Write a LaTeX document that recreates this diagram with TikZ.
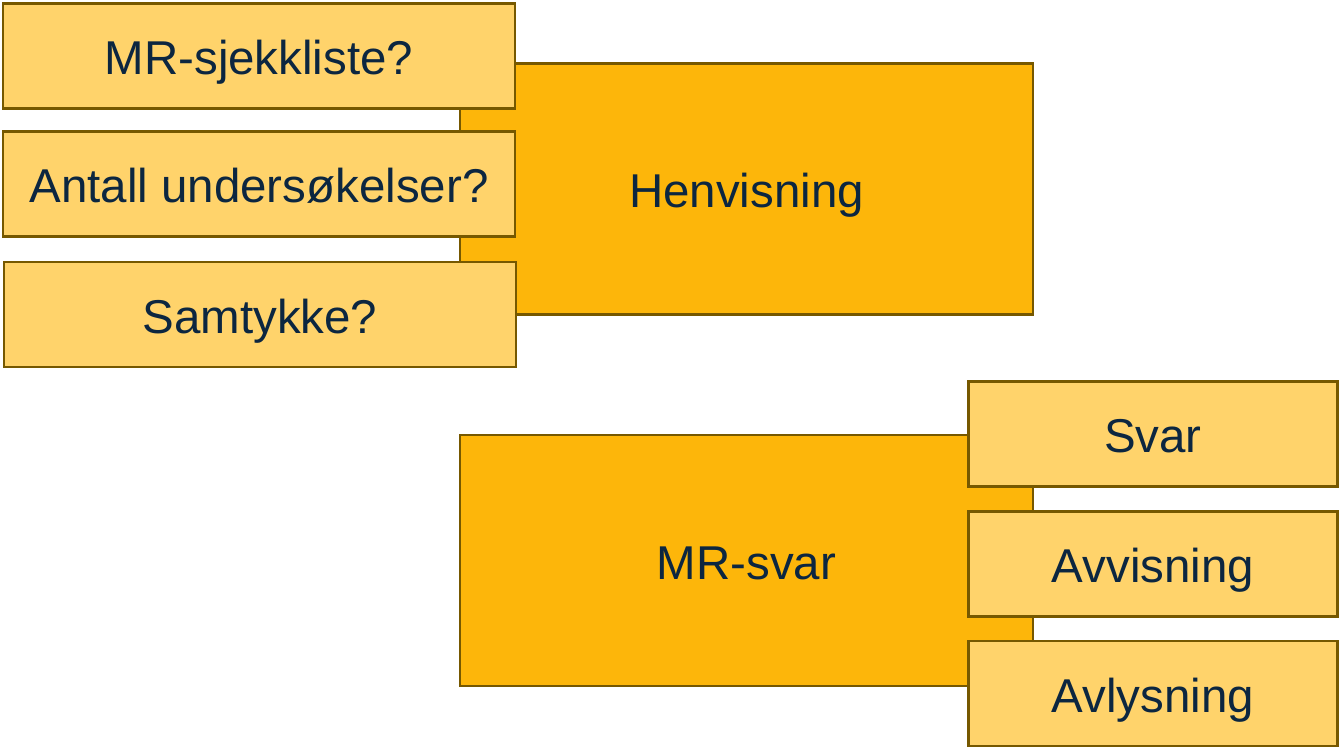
\documentclass[tikz,border=0pt]{standalone}
\usepackage{fontspec}
\setmainfont{Liberation Sans}
\definecolor{boxline}{HTML}{765800}
\definecolor{bigfill}{HTML}{FDB60A}
\definecolor{smallfill}{HTML}{FFD36B}
\definecolor{navytext}{HTML}{0C2640}
\begin{document}
\begin{tikzpicture}[x=0.75pt, y=-0.75pt,
	big/.style={draw=boxline, line width=1.9pt, fill=bigfill, rectangle, minimum width=430pt, minimum height=188pt, inner sep=0pt, text height=30pt, text depth=2.2pt, text=navytext, font=\fontsize{35.6}{43}\selectfont},
	small/.style={draw=boxline, line width=1.9pt, fill=smallfill, rectangle, minimum height=79pt, inner sep=0pt, text height=30pt, text depth=2.2pt, text=navytext, font=\fontsize{35.6}{43}\selectfont}]
		\useasboundingbox (0,0) rectangle (1340,748);
		\node[big] (henv) at (746.5,189) {Henvisning};
		\node[small, minimum width=384pt] (sjekk) at (259,56) {MR-sjekkliste?};
		\node[small, minimum width=384pt] (antall) at (259,184) {Antall undersøkelser?};
		\node[small, minimum width=384pt] (samt) at (260,314.5) {Samtykke?};

		\node[big] (mrsvar) at (746.5,560.5) {MR-svar};
		\node[small, minimum width=277pt] (svar) at (1153,434) {Svar};
		\node[small, minimum width=277pt] (avvis) at (1153,564) {Avvisning};
		\node[small, minimum width=277pt] (avlys) at (1153,693.5) {Avlysning};
	\end{tikzpicture}
\end{document}
